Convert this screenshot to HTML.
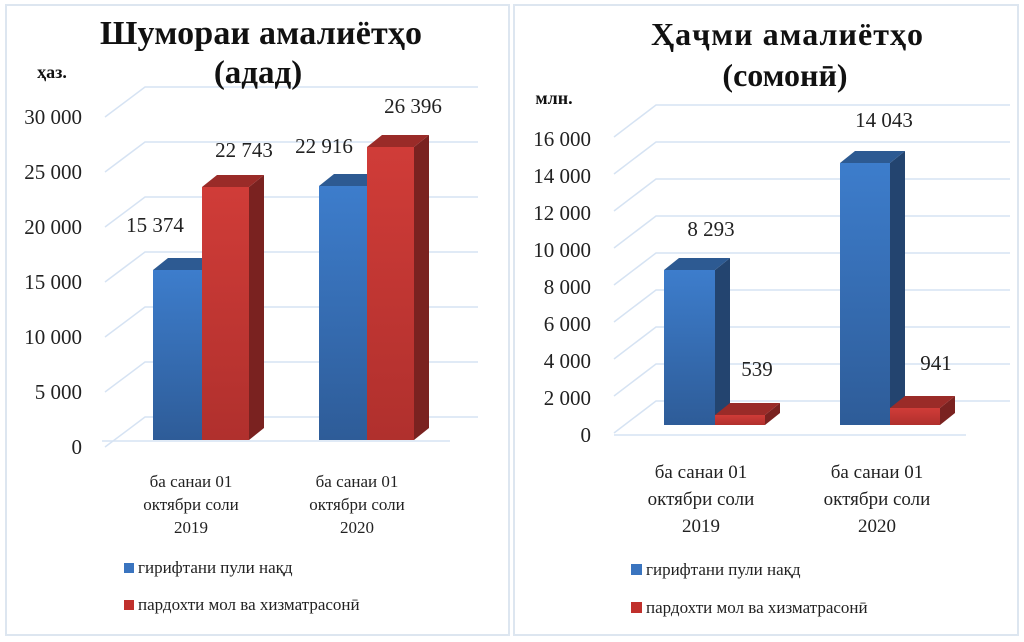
<!DOCTYPE html>
<html><head><meta charset="utf-8"><style>
html,body{margin:0;padding:0;background:#fff;}
svg{display:block;font-family:"Liberation Serif",serif;}
</style></head><body>
<svg width="1024" height="642" viewBox="0 0 1024 642" xmlns="http://www.w3.org/2000/svg">
<defs>
<linearGradient id="bf" x1="0" y1="0" x2="0" y2="1"><stop offset="0" stop-color="#3d7dcc"/><stop offset="1" stop-color="#2e5c98"/></linearGradient>
<linearGradient id="rf" x1="0" y1="0" x2="0" y2="1"><stop offset="0" stop-color="#d03c38"/><stop offset="1" stop-color="#b0302d"/></linearGradient>
</defs>
<rect x="6" y="5" width="503" height="630" fill="#fff" stroke="#dde6f0" stroke-width="2"/>
<rect x="514" y="5" width="504" height="630" fill="#fff" stroke="#dde6f0" stroke-width="2"/>
<g stroke="#d6e3f3" stroke-width="1.5" fill="none">
<path d="M105 117 L145 87 H478 M105 172 L145 142 H478 M105 227 L145 197 H478 M105 282 L145 252 H478 M105 337 L145 307 H478 M105 392 L145 362 H478 M105 447 L145 417 H478"/>
<path d="M102 441 H450"/>
<path d="M614 137 L656 105 H1010 M614 174 L656 142 H1010 M614 211 L656 179 H1010 M614 248 L656 216 H1010 M614 285 L656 253 H1010 M614 322 L656 290 H1010 M614 359 L656 327 H1010 M614 396 L656 364 H1010 M614 433 L656 401 H1010"/>
<path d="M614 435 H966"/>
</g>
<g font-size="21" fill="#222" text-anchor="end">
<text x="82" y="124">30 000</text><text x="82" y="179">25 000</text><text x="82" y="234">20 000</text><text x="82" y="289">15 000</text><text x="82" y="344">10 000</text><text x="82" y="399">5 000</text><text x="82" y="454">0</text>
<text x="591" y="146">16 000</text><text x="591" y="183">14 000</text><text x="591" y="220">12 000</text><text x="591" y="257">10 000</text><text x="591" y="294">8 000</text><text x="591" y="331">6 000</text><text x="591" y="368">4 000</text><text x="591" y="405">2 000</text><text x="591" y="442">0</text>
</g>
<g>
<polygon points="153,270 202,270 217,258 168,258" fill="#2d5a92"/><rect x="153" y="270" width="49" height="170" fill="url(#bf)"/>
<polygon points="249,187 264,175 264,428 249,440" fill="#7a2220"/><polygon points="202,187 249,187 264,175 217,175" fill="#9a2b28"/><rect x="202" y="187" width="47" height="253" fill="url(#rf)"/>
<polygon points="319,186 367,186 382,174 334,174" fill="#2d5a92"/><rect x="319" y="186" width="48" height="254" fill="url(#bf)"/>
<polygon points="414,147 429,135 429,428 414,440" fill="#7a2220"/><polygon points="367,147 414,147 429,135 382,135" fill="#9a2b28"/><rect x="367" y="147" width="47" height="293" fill="url(#rf)"/>
</g>
<g>
<polygon points="715,270 730,258 730,413 715,425" fill="#23446f"/><polygon points="664,270 715,270 730,258 679,258" fill="#2d5a92"/><rect x="664" y="270" width="51" height="155" fill="url(#bf)"/>
<polygon points="765,415 780,403 780,413 765,425" fill="#7a2220"/><polygon points="715,415 765,415 780,403 730,403" fill="#9a2b28"/><rect x="715" y="415" width="50" height="10" fill="url(#rf)"/>
<polygon points="890,163 905,151 905,413 890,425" fill="#23446f"/><polygon points="840,163 890,163 905,151 855,151" fill="#2d5a92"/><rect x="840" y="163" width="50" height="262" fill="url(#bf)"/>
<polygon points="940,408 955,396 955,413 940,425" fill="#7a2220"/><polygon points="890,408 940,408 955,396 905,396" fill="#9a2b28"/><rect x="890" y="408" width="50" height="17" fill="url(#rf)"/>
</g>
<g font-size="21" fill="#222" text-anchor="middle">
<text x="155" y="232">15 374</text><text x="244" y="157">22 743</text><text x="324" y="153">22 916</text><text x="413" y="113">26 396</text>
<text x="711" y="236">8 293</text><text x="757" y="376">539</text><text x="884" y="127">14 043</text><text x="936" y="370">941</text>
</g>
<g font-size="17" fill="#222" text-anchor="middle">
<text x="191" y="487">ба санаи 01</text><text x="191" y="510">октябри соли</text><text x="191" y="533">2019</text>
<text x="357" y="487">ба санаи 01</text><text x="357" y="510">октябри соли</text><text x="357" y="533">2020</text>
</g>
<g font-size="19" fill="#222" text-anchor="middle">
<text x="701" y="478">ба санаи 01</text><text x="701" y="505">октябри соли</text><text x="701" y="532">2019</text>
<text x="877" y="478">ба санаи 01</text><text x="877" y="505">октябри соли</text><text x="877" y="532">2020</text>
</g>
<g font-size="17" fill="#222">
<rect x="124" y="563" width="10" height="10" fill="#3a74bf"/><text x="138" y="573">гирифтани пули нақд</text>
<rect x="124" y="600" width="10" height="10" fill="#c0302c"/><text x="138" y="610">пардохти мол ва хизматрасонӣ</text>
<rect x="631" y="564" width="11" height="11" fill="#3a74bf"/><text x="646" y="575">гирифтани пули нақд</text>
<rect x="631" y="602" width="11" height="11" fill="#c0302c"/><text x="646" y="613">пардохти мол ва хизматрасонӣ</text>
</g>
<g font-weight="bold" fill="#111" text-anchor="middle">
<text x="261" y="44" font-size="34" textLength="322">Шумораи амалиётҳо</text>
<text x="258" y="83" font-size="33">(адад)</text>
<text x="787" y="45" font-size="32" textLength="272">Ҳаҷми амалиётҳо</text>
<text x="785" y="86" font-size="32">(сомонӣ)</text>
<text x="52" y="78" font-size="18">ҳаз.</text>
<text x="554" y="104" font-size="18">млн.</text>
</g>
</svg>
</body></html>
